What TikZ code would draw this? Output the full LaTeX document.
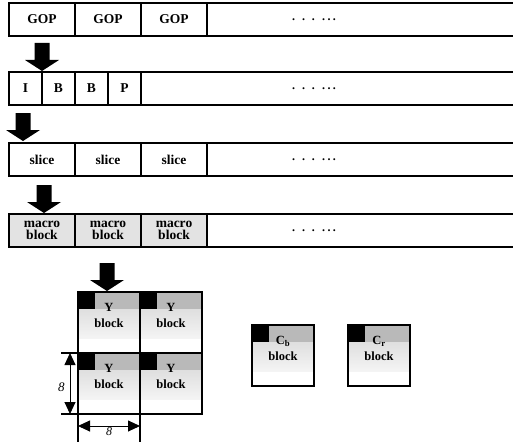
\documentclass[tikz,border=0pt]{standalone}
\usepackage{fontspec}
\setmainfont{Liberation Serif}
\usetikzlibrary{positioning, calc, arrows.meta}

\tikzset{
    bigarrow/.pic={
        \fill[black] (-7.5,-28) -- (7.5,-28) -- (7.5,-11) -- (17,-11) -- (0,0) -- (-17,-11) -- (-7.5,-11) -- cycle;
    }
}

\begin{document}
\begin{tikzpicture}[
    x=1pt, y=-1pt,
    line width=1.2pt,
    cell/.style={rectangle, draw, minimum width=66pt, minimum height=33pt, inner sep=0pt, outer sep=0pt, font=\bfseries\fontsize{13.5}{14}\selectfont},
    half/.style={cell, minimum width=33pt},
    mcell/.style={cell, fill=gray!22, align=center},
    dots/.style={font=\bfseries\fontsize{12}{12}\selectfont},
    lbl/.style={anchor=north, yshift=-11pt, inner sep=0pt, align=center, font=\bfseries\fontsize{12.5}{16}\selectfont},
    blk/.style={rectangle, draw, minimum width=62pt, minimum height=61pt, inner sep=0pt, outer sep=0pt,
        path picture={
            \shade[top color=gray!35, bottom color=white] ([yshift=-17pt]path picture bounding box.north west) rectangle ([yshift=-46pt]path picture bounding box.north east);
            \fill[gray!55] ([xshift=17pt]path picture bounding box.north west) rectangle ([yshift=-17pt]path picture bounding box.north east);
            \fill[black] (path picture bounding box.north west) rectangle ++(17,17);
        }},
    dim/.style={line width=0.9pt, {Triangle[width=11pt,length=12pt]}-{Triangle[width=11pt,length=12pt]}},
]
    \useasboundingbox (0,0) rectangle (513,441);
    \coordinate (edge) at (513,0);
    \coordinate (dotcol) at (314,0);

    % GOP row
    \node[cell, anchor=north west] (gop1) at (9,3) {GOP};
    \node[cell, right=0pt of gop1] (gop2) {GOP};
    \node[cell, right=0pt of gop2] (gop3) {GOP};
    \draw (gop3.north east) -- (gop3.north east -| edge);
    \draw (gop3.south east) -- (gop3.south east -| edge);
    \node[dots] at (dotcol |- gop1) {.\hspace{7pt}.\hspace{7pt}.\hspace{7pt}.\hspace{2.5pt}.\hspace{2.5pt}.};

    % picture row
    \node[half, anchor=north west] (picI) at (9,72) {I};
    \node[half, right=0pt of picI] (picB1) {B};
    \node[half, right=0pt of picB1] (picB2) {B};
    \node[half, right=0pt of picB2] (picP) {P};
    \draw (picP.north east) -- (picP.north east -| edge);
    \draw (picP.south east) -- (picP.south east -| edge);
    \node[dots] at (dotcol |- picI) {.\hspace{7pt}.\hspace{7pt}.\hspace{7pt}.\hspace{2.5pt}.\hspace{2.5pt}.};

    % slice row
    \node[cell, anchor=north west] (sl1) at (9,143) {slice};
    \node[cell, right=0pt of sl1] (sl2) {slice};
    \node[cell, right=0pt of sl2] (sl3) {slice};
    \draw (sl3.north east) -- (sl3.north east -| edge);
    \draw (sl3.south east) -- (sl3.south east -| edge);
    \node[dots] at (dotcol |- sl1) {.\hspace{7pt}.\hspace{7pt}.\hspace{7pt}.\hspace{2.5pt}.\hspace{2.5pt}.};

    % macro block row
    \node[mcell, anchor=north west] (mb1) at (9,214) {macro\\[-2pt]block};
    \node[mcell, right=0pt of mb1] (mb2) {macro\\[-2pt]block};
    \node[mcell, right=0pt of mb2] (mb3) {macro\\[-2pt]block};
    \draw (mb3.north east) -- (mb3.north east -| edge);
    \draw (mb3.south east) -- (mb3.south east -| edge);
    \node[dots] at (dotcol |- mb1) {.\hspace{7pt}.\hspace{7pt}.\hspace{7pt}.\hspace{2.5pt}.\hspace{2.5pt}.};

    % Y, Cb, Cr blocks
    \node[blk, anchor=north west, label={[lbl]north:{Y\\block}}] (y1) at (78,292) {};
    \node[blk, right=0pt of y1, label={[lbl]north:{Y\\block}}] (y2) {};
    \node[blk, below=0pt of y1, label={[lbl]north:{Y\\block}}] (y3) {};
    \node[blk, right=0pt of y3, label={[lbl]north:{Y\\block}}] (y4) {};
    \node[blk, anchor=north west, label={[lbl]north:{C\textsubscript{b}\\block}}] (cb) at (252,325) {};
    \node[blk, right=34pt of cb, label={[lbl]north:{C\textsubscript{r}\\block}}] (cr) {};

    % arrows between levels
    \pic at ([yshift=1pt]picI.north east) {bigarrow};
    \pic at ([xshift=14pt, yshift=2pt]sl1.north west) {bigarrow};
    \pic at ([xshift=2pt, yshift=1pt]mb1.north) {bigarrow};
    \pic at ([xshift=-2pt, yshift=1pt]y1.north) {bigarrow};

    % dimensions
    \draw (y3.north west) -- ++(-17,0);
    \draw (y3.south west) -- ++(-17,0);
    \draw (y3.south west) -- ++(0,28);
    \draw (y3.south east) -- ++(0,28);
    \draw[dim] ([xshift=-8pt]y3.north west) -- ([xshift=-8pt]y3.south west)
        node[midway, left=5pt, inner sep=0pt, yshift=-4pt, font=\itshape\fontsize{13}{13}\selectfont] {8};
    \draw[dim] ([yshift=-12pt]y3.south west) -- ([yshift=-12pt]y3.south east)
        node[midway, below=1.5pt, inner sep=0pt, font=\itshape\fontsize{12}{12}\selectfont] {8};
\end{tikzpicture}
\end{document}
